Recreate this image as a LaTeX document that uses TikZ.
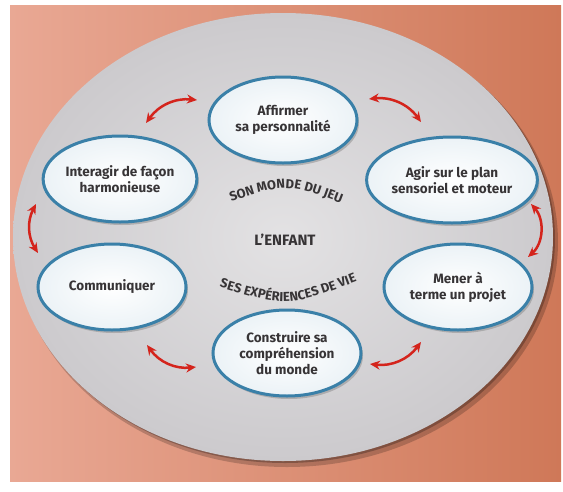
\documentclass[tikz,border=0pt]{standalone}
\usepackage{fontspec}
\setmainfont{Fira Sans}
\usetikzlibrary{shapes.geometric,shadows,arrows.meta,decorations.text}
\definecolor{saumon}{RGB}{233,168,148}
\definecolor{brique}{RGB}{207,120,88}
\definecolor{bleu}{RGB}{58,128,168}
\definecolor{rouge}{RGB}{212,36,28}
\definecolor{encre}{RGB}{55,52,54}
\definecolor{disque}{RGB}{204,202,205}
\tikzset{
	bulle/.style={ellipse,draw=bleu,line width=3pt,inner color=white,outer color=bleu!10,minimum width=148pt,minimum height=86pt,inner sep=0pt,align=center,text=encre,font=\fontsize{13.5}{16}\selectfont\bfseries,drop shadow={shadow xshift=2pt,shadow yshift=-3pt,opacity=.45}},
	fleche/.style={<->,>={Stealth[length=10pt,width=9pt]},rouge,line width=2.5pt,bend left=#1},
	texteArc/.style={decorate,decoration={text along path,text align=center,text color=encre,text={|\fontsize{13}{13}\selectfont\bfseries|#1}}}
}
\begin{document}
\begin{tikzpicture}[x=1pt,y=-1pt]
		 \fill[white] (0,0) rectangle (563,491); \useasboundingbox (0,0) rectangle (563,491);
		 \shade[left color=saumon,right color=brique] (10,5) rectangle (561,481);
		 \fill[black,opacity=.2] (287,242) ellipse [x radius=271,y radius=225]; \fill[black,opacity=.25] (285,239) ellipse [x radius=270,y radius=224];
		 \shade[inner color=disque!55!white,outer color=disque] (283,237) ellipse [x radius=270,y radius=224];
		 \node[bulle] (affirmer) at (283,120) {Affirmer\\sa personnalité};
		 \node[bulle] (agir) at (452,180) {Agir sur le plan\\sensoriel et moteur};
		 \node[bulle] (mener) at (458,287) {Mener à\\terme un projet};
		 \node[bulle] (construire) at (287,353) {Construire sa\\compréhension\\du monde};
		 \node[bulle] (communiquer) at (112,287) {Communiquer};
		 \node[bulle] (interagir) at (120,179) {Interagir de façon\\harmonieuse};
		 \node[text=encre,font=\fontsize{15}{15}\selectfont\bfseries] (enfant) at (285,240) {L'ENFANT};
		 \path[texteArc={SON MONDE DU JEU}] (219,206) .. controls (286,182) .. (353,208);
		 \path[texteArc={SES EXPÉRIENCES DE VIE}] (210,284) .. controls (287,308) .. (366,278);
		 \coordinate (f1a) at (146,123); \coordinate (f1b) at (197,100);
		 \coordinate (f2a) at (369,99); \coordinate (f2b) at (421,122);
		 \coordinate (f3a) at (531,204); \coordinate (f3b) at (528,257);
		 \coordinate (f4a) at (421,342); \coordinate (f4b) at (370,364);
		 \coordinate (f5a) at (196,367); \coordinate (f5b) at (147,345);
		 \coordinate (f6a) at (38,253); \coordinate (f6b) at (36,204);
		 \draw[fleche=30] (f1a) to (f1b); \draw[fleche=30] (f2a) to (f2b); \draw[fleche=45] (f3a) to (f3b);
		 \draw[fleche=30] (f4a) to (f4b); \draw[fleche=30] (f5a) to (f5b); \draw[fleche=30] (f6a) to (f6b);
\end{tikzpicture}
\end{document}
